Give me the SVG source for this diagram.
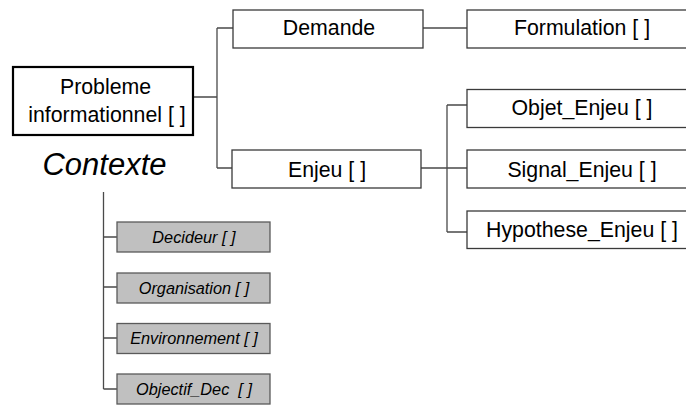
<svg xmlns="http://www.w3.org/2000/svg" width="686" height="405" viewBox="0 0 686 405">
<style>
.bx{fill:#fff;stroke:#3a3a3a;stroke-width:1.3}
.main{fill:#fff;stroke:#000;stroke-width:2.2}
.gb{fill:#c0c0c0;stroke:#5a5a5a;stroke-width:1.3}
.t{font-family:"Liberation Sans",Arial,sans-serif;font-size:21.3px;fill:#000;text-anchor:middle}
.ti{font-family:"Liberation Sans",Arial,sans-serif;font-size:16.3px;font-style:italic;fill:#000;text-anchor:middle}
.ctx{font-family:"Liberation Sans",Arial,sans-serif;font-size:31px;font-style:italic;fill:#000;text-anchor:middle}
.cn{fill:none;stroke:#4a4a4a;stroke-width:1.3}
</style>
<rect width="686" height="405" fill="#fff"/>
<g id="connectors">
<path class="cn" d="M193 97H217M217 28V168M217 28H233M217 168H232"/>
<path class="cn" d="M423 28H467"/>
<path class="cn" d="M421 168H467M447 105V232M447 105H467M447 232H467"/>
<path class="cn" d="M103.5 192V389M103.5 237H117M103.5 287H117M103.5 338H117M103.5 389H117"/>
</g>
<g id="probleme">
<rect class="main" x="13" y="67" width="180" height="68"/>
<text class="t" x="105.5" y="94">Probleme</text>
<text class="t" x="107" y="121.5">informationnel [ ]</text>
</g>
<g id="contexte">
<text class="ctx" x="104.5" y="175">Contexte</text>
</g>
<g id="demande">
<rect class="bx" x="233" y="10" width="190" height="38"/>
<text class="t" x="329" y="35">Demande</text>
</g>
<g id="enjeu">
<rect class="bx" x="232" y="150" width="189" height="38"/>
<text class="t" x="327" y="176.5">Enjeu [ ]</text>
</g>
<g id="formulation">
<rect class="bx" x="467" y="10" width="230" height="38"/>
<text class="t" x="582" y="35">Formulation [ ]</text>
</g>
<g id="objet_enjeu">
<rect class="bx" x="467" y="89.5" width="230" height="38"/>
<text class="t" x="582" y="115">Objet_Enjeu [ ]</text>
</g>
<g id="signal_enjeu">
<rect class="bx" x="467" y="150" width="230" height="38"/>
<text class="t" x="582" y="176.5">Signal_Enjeu [ ]</text>
</g>
<g id="hypothese_enjeu">
<rect class="bx" x="467" y="211" width="230" height="37.5"/>
<text class="t" x="582" y="236.5">Hypothese_Enjeu [ ]</text>
</g>
<g id="decideur">
<rect class="gb" x="117" y="222" width="153" height="30"/>
<text class="ti" x="194" y="242.5">Decideur [ ]</text>
</g>
<g id="organisation">
<rect class="gb" x="117" y="273" width="153" height="30"/>
<text class="ti" x="194" y="293.5">Organisation [ ]</text>
</g>
<g id="environnement">
<rect class="gb" x="117" y="323.5" width="153" height="30"/>
<text class="ti" x="194" y="344">Environnement [ ]</text>
</g>
<g id="objectif_dec">
<rect class="gb" x="117" y="374" width="153" height="30"/>
<text class="ti" x="194" y="394.5" xml:space="preserve">Objectif_Dec  [ ]</text>
</g>
</svg>
